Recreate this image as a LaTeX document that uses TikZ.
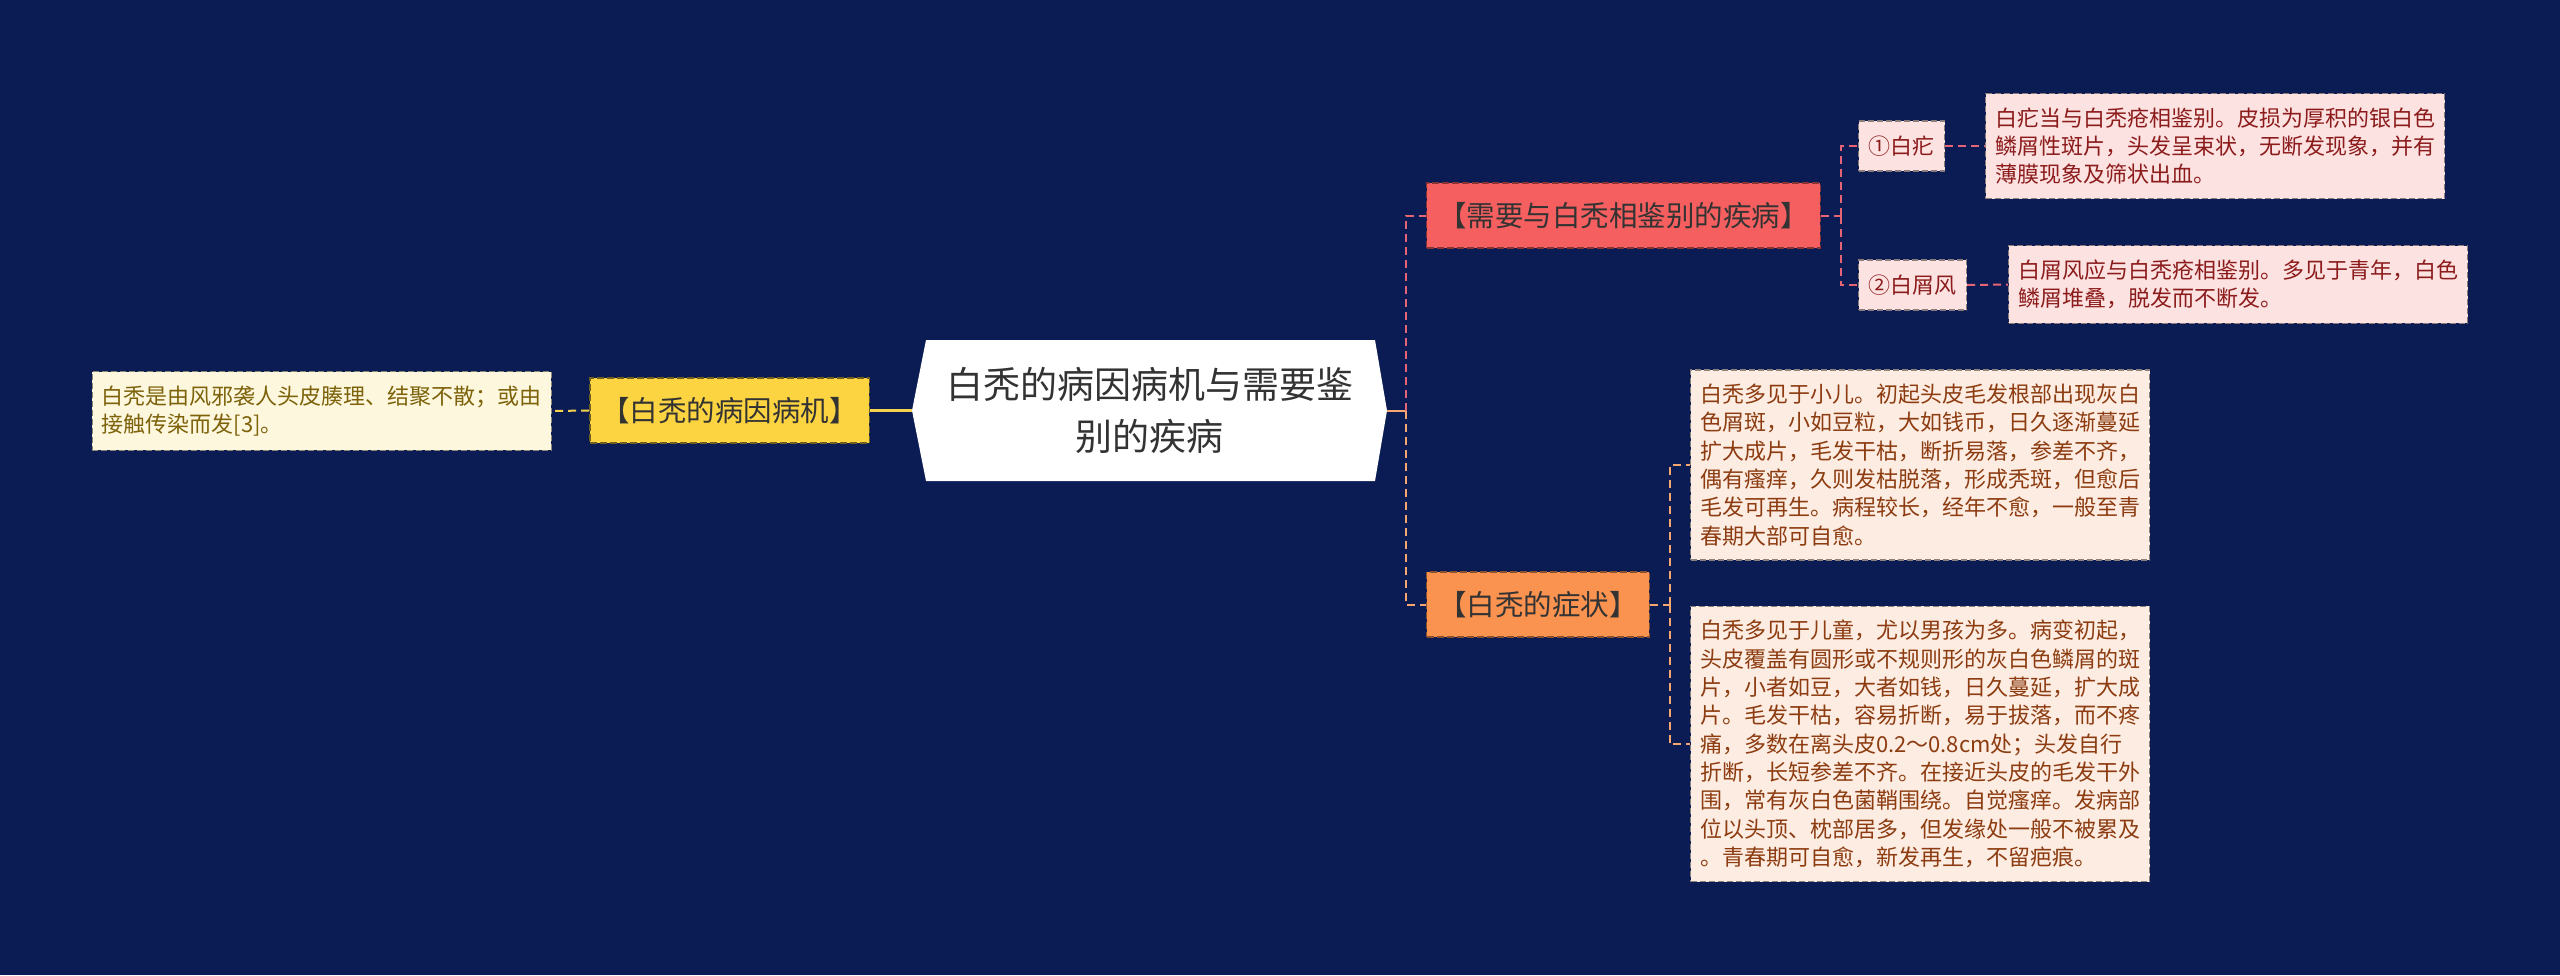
\documentclass[tikz,border=0pt]{standalone}
\usepackage{tikz}
\usepackage{fontspec}
\newfontfamily\cjk{Noto Sans CJK SC}
\definecolor{bgnavy}{RGB}{11,28,84}
\definecolor{rootink}{RGB}{51,51,51}
\definecolor{yellowfill}{RGB}{252,211,64}
\definecolor{yellowline}{RGB}{246,210,76}
\definecolor{creamfill}{RGB}{253,247,222}
\definecolor{creamink}{RGB}{125,98,10}
\definecolor{redfill}{RGB}{245,95,95}
\definecolor{redline}{RGB}{230,100,118}
\definecolor{pinkfill}{RGB}{253,226,226}
\definecolor{pinkink}{RGB}{140,28,28}
\definecolor{orangefill}{RGB}{250,146,80}
\definecolor{orangeline}{RGB}{246,166,112}
\definecolor{peachfill}{RGB}{253,236,226}
\definecolor{peachink}{RGB}{140,60,16}

\begin{document}
\begin{tikzpicture}[x=1pt,y=-1pt,
    mainnode/.style={font=\cjk\fontsize{28.5}{34}\selectfont, text=rootink,
      inner xsep=11.5pt, minimum height=65pt, line width=1.3pt, dash pattern=on 7pt off 3pt},
    subnode/.style={font=\cjk\fontsize{22}{26}\selectfont,
      inner xsep=10pt, minimum height=50pt, line width=1.2pt, dash pattern=on 6pt off 3pt},
    leafnode/.style={font=\cjk\fontsize{22}{28.3}\selectfont, align=left,
      inner xsep=9.5pt, inner ysep=14pt, line width=1.2pt, dash pattern=on 6pt off 3pt},
    link/.style={line width=2pt, dash pattern=on 8pt off 5pt}]
    % background and page size
    \fill[bgnavy] (0,0) rectangle (2560,975);
    \useasboundingbox (0,0) rectangle (2560,975);

    % centre topic
    \fill[white] (912,410.5)--(926,340)--(1375,340)--(1387,410.5)--(1375,481)--(926,481)--cycle;
    \node[font=\cjk\fontsize{37}{52}\selectfont, text=rootink, align=center,
      minimum width=475pt, minimum height=141pt] (root) at (1149.5,410.5)
      {白秃的病因病机与需要鉴\\别的疾病};

    % left branch
    \node[mainnode, fill=yellowfill, draw=yellowfill!45!black, anchor=east] (cause) at (870,410.5)
      {【白秃的病因病机】};
    \node[leafnode, fill=creamfill, draw=creamfill!55!black, text=creamink, anchor=east] (causeleaf) at (552,411)
      {白秃是由风邪袭人头皮腠理、结聚不散；或由\\接触传染而发[3]。};
    \draw[yellowline, line width=3pt] (root.west) -- (cause.east);
    \draw[yellowline, link] (cause.west) -- (causeleaf.east);

    % right branches
    \node[mainnode, fill=redfill, draw=redfill!55!black, anchor=west] (diff) at (1426,215.5)
      {【需要与白秃相鉴别的疾病】};
    \node[mainnode, fill=orangefill, draw=orangefill!55!black, anchor=west] (sym) at (1426,604.5)
      {【白秃的症状】};
    \coordinate (trunk) at ([xshift=19pt]root.east);
    \draw[orangeline, line width=2pt] (root.east) -- (trunk);
    \draw[redline, link] (trunk) |- (diff.west);
    \draw[orangeline, link] (trunk) |- (sym.west);

    % differential diagnosis
    \node[subnode, fill=pinkfill, draw=pinkfill!55!black, text=pinkink, anchor=west] (bibi) at (1858,146)
      {①白疕};
    \node[subnode, fill=pinkfill, draw=pinkfill!55!black, text=pinkink, anchor=west] (baixie) at (1858,285)
      {②白屑风};
    \node[leafnode, fill=pinkfill, draw=pinkfill!55!black, text=pinkink, anchor=west] (bibileaf) at (1985,146)
      {白疕当与白秃疮相鉴别。皮损为厚积的银白色\\鳞屑性斑片，头发呈束状，无断发现象，并有\\薄膜现象及筛状出血。};
    \node[leafnode, fill=pinkfill, draw=pinkfill!55!black, text=pinkink, anchor=west] (baixieleaf) at (2008,284.5)
      {白屑风应与白秃疮相鉴别。多见于青年，白色\\鳞屑堆叠，脱发而不断发。};
    \coordinate (diffjoin) at ([xshift=20pt]diff.east);
    \draw[redline, link] (diff.east) -- (diffjoin);
    \foreach \n in {bibi,baixie}
      \draw[redline, link] (diffjoin) |- (\n.west);
    \draw[redline, link] (bibi.east) -- (bibileaf.west);
    \draw[redline, link] (baixie.east) -- (baixieleaf.west);

    % symptoms
    \node[leafnode, fill=peachfill, draw=peachfill!55!black, text=peachink, anchor=west] (symone) at (1690,465)
      {白秃多见于小儿。初起头皮毛发根部出现灰白\\色屑斑，小如豆粒，大如钱币，日久逐渐蔓延\\扩大成片，毛发干枯，断折易落，参差不齐，\\偶有瘙痒，久则发枯脱落，形成秃斑，但愈后\\毛发可再生。病程较长，经年不愈，一般至青\\春期大部可自愈。};
    \node[leafnode, fill=peachfill, draw=peachfill!55!black, text=peachink, anchor=west] (symtwo) at (1690,744)
      {白秃多见于儿童，尤以男孩为多。病变初起，\\头皮覆盖有圆形或不规则形的灰白色鳞屑的斑\\片，小者如豆，大者如钱，日久蔓延，扩大成\\片。毛发干枯，容易折断，易于拔落，而不疼\\痛，多数在离头皮0.2～0.8cm处；头发自行\\折断，长短参差不齐。在接近头皮的毛发干外\\围，常有灰白色菌鞘围绕。自觉瘙痒。发病部\\位以头顶、枕部居多，但发缘处一般不被累及\\。青春期可自愈，新发再生，不留疤痕。};
    \coordinate (symjoin) at ([xshift=20pt]sym.east);
    \draw[orangeline, link] (sym.east) -- (symjoin);
    \foreach \n in {symone,symtwo}
      \draw[orangeline, link] (symjoin) |- (\n.west);
\end{tikzpicture}
\end{document}
